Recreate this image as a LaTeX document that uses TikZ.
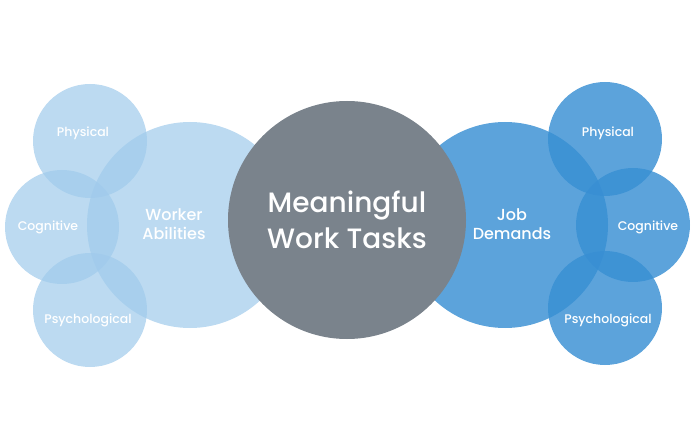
\documentclass[tikz,border=0pt]{standalone}
\usepackage{fontspec}
\setmainfont{Poppins}[UprightFont={* Medium}]
\usetikzlibrary{positioning}
\definecolor{lightbubble}{RGB}{159,202,235}
\definecolor{deepbubble}{RGB}{56,143,211}
\definecolor{taskgray}{RGB}{122,131,140}
\tikzset{
    smallbubble/.style={
        circle,
        minimum size=114pt,
        inner sep=0pt
    },
    bigbubble/.style={
        circle,
        minimum size=206pt,
        inner sep=0pt
    },
    leftfill/.style={
        fill=lightbubble,
        fill opacity=0.7
    },
    rightfill/.style={
        fill=deepbubble,
        fill opacity=0.82
    },
    smalltext/.style={
        text=white,
        font=\fontsize{12.5}{14}\selectfont,
        align=center
    },
    bigtext/.style={
        text=white,
        font=\fontsize{16}{19.5}\selectfont,
        align=center
    }
}

\begin{document}
\begin{tikzpicture}[x=1pt, y=-1pt]
    % Frame
    \useasboundingbox (0,0) rectangle (696,446);

    % Worker side
    \node[smallbubble, leftfill] (wphys) at (90,141) {};
    \node[smallbubble, leftfill] (wcog)  at (62,227) {};
    \node[smallbubble, leftfill] (wpsy)  at (90,310) {};
    \node[bigbubble, leftfill]   (worker) at (190,225) {};

    % Job side
    \node[bigbubble, rightfill]   (job)   at (505,225) {};
    \node[smallbubble, rightfill] (jphys) at (605,139) {};
    \node[smallbubble, rightfill] (jcog)  at (633,225) {};
    \node[smallbubble, rightfill] (jpsy)  at (605,308) {};

    % Centre
    \node[circle, fill=taskgray, minimum size=238pt, inner sep=0pt] (tasks) at (347,220) {};

    % Labels
    \node[smalltext] (wphys-t) at (83,133) {Physical};
    \node[smalltext] (wcog-t)  at (48,227) {Cognitive};
    \node[smalltext] (wpsy-t)  at (88,320) {Psychological};
    \node[bigtext]   (worker-t) at (174,224) {Worker\\Abilities};

    \node[bigtext]   (job-t)   at (512,224) {Job\\Demands};
    \node[smalltext] (jphys-t) at (608,133) {Physical};
    \node[smalltext] (jcog-t)  at (648,227) {Cognitive};
    \node[smalltext] (jpsy-t)  at (608,320) {Psychological};

    \node[text=white, font=\fontsize{28}{36}\selectfont, align=center] (tasks-t) at (tasks) {Meaningful\\Work Tasks};
\end{tikzpicture}
\end{document}
